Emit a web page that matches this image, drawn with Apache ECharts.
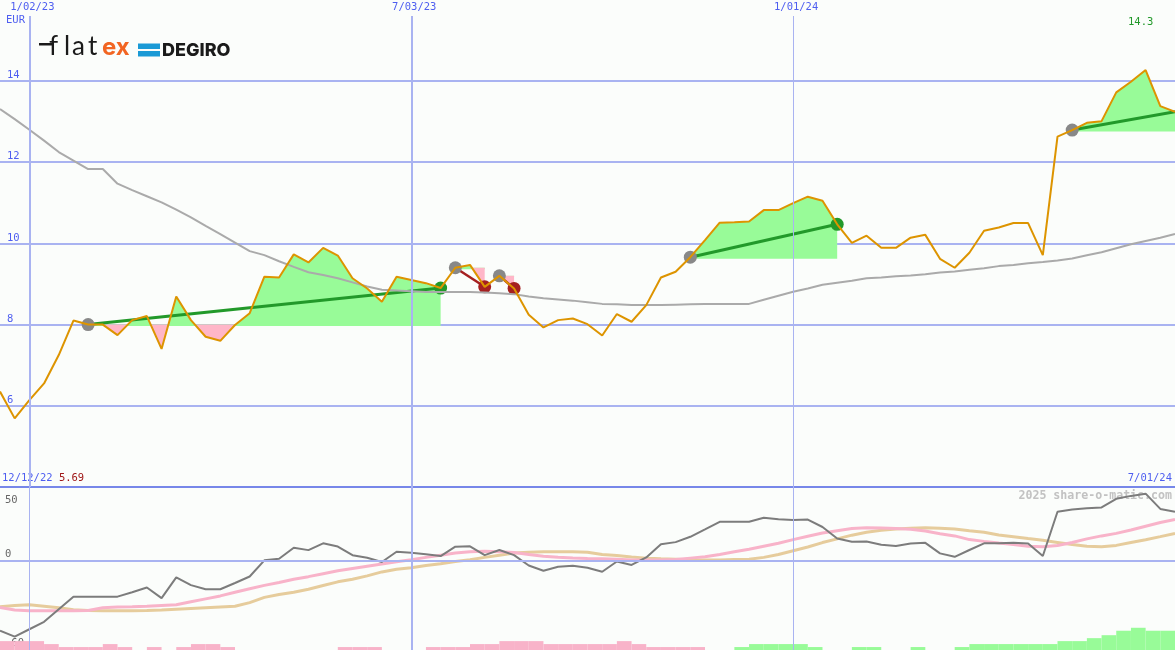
<!DOCTYPE html>
<html><head><meta charset="utf-8">
<script src="https://cdn.jsdelivr.net/npm/echarts@6/dist/echarts.min.js"></script>
<style>html,body{margin:0;padding:0;background:#fbfdfb}#c{width:1175px;height:650px}</style>
</head><body><div id="c"></div>
<script>
// ---------- DATA (weekly, index 0 = week of 12/19/22) ----------
const topTickIdx = [2, 28, 54];
const topTickLabels = ['1/02/23', '7/03/23', '1/01/24'];
const rangeLabels = ['12/12/22', '7/01/24'];
const priceTicks = [6, 8, 10, 12, 14];
const oscTicks = [50, 0, -60];
const currency = 'EUR';
const watermark = '2025 share-o-matic.com';

const prices = [6.35,5.69,6.14,6.55,7.25,8.10,8.00,8.00,7.74,8.11,
  8.21,7.40,8.69,8.11,7.70,7.60,7.99,8.28,9.18,9.16,
  9.73,9.53,9.89,9.70,9.14,8.89,8.56,9.18,9.10,9.02,
  8.90,9.40,9.47,8.93,9.20,8.89,8.24,7.93,8.11,8.15,
  8.01,7.73,8.26,8.07,8.48,9.16,9.30,9.66,10.08,10.51,
  10.52,10.54,10.82,10.82,10.99,11.15,11.05,10.47,10.01,10.19,
  9.89,9.89,10.14,10.21,9.62,9.40,9.77,10.31,10.39,10.50,
  10.50,9.71,12.63,12.79,12.97,13.01,13.72,13.98,14.27,13.38,
  13.24];

const priceMA = [13.31,13.06,12.80,12.53,12.25,12.04,11.83,11.83,11.47,11.31,
  11.16,11.01,10.83,10.64,10.43,10.23,10.02,9.81,9.71,9.56,
  9.42,9.29,9.22,9.14,9.04,8.94,8.86,8.84,8.82,8.80,
  8.80,8.80,8.80,8.79,8.77,8.75,8.69,8.65,8.62,8.59,
  8.55,8.51,8.50,8.48,8.48,8.48,8.49,8.50,8.51,8.51,
  8.51,8.51,8.61,8.71,8.81,8.89,8.98,9.03,9.08,9.14,
  9.16,9.19,9.21,9.24,9.28,9.31,9.35,9.39,9.44,9.47,
  9.51,9.54,9.58,9.63,9.71,9.78,9.88,9.98,10.06,10.14,
  10.23];

const osc = [-47,-51,-46,-41,-32.5,-24,-24,-24,-24,-21,
  -17.8,-25,-11,-16.2,-19,-19,-14.8,-10.4,0.5,1.6,
  9,7.4,12,9.8,4,2.2,-0.6,6.3,5.7,4.6,
  3.4,9.7,10,4,7.5,4,-3,-6.5,-3.8,-3.1,
  -4.5,-7.2,-0.3,-2.6,2.5,11.4,12.8,16.4,21.4,26.5,
  26.5,26.5,29.2,28.2,27.8,28,23,15.3,13,13.2,
  11,10.2,11.8,12.3,5.2,2.9,7.5,12,12.1,12.3,
  11.8,3.4,33.3,34.8,35.7,36.2,42,44,45.5,35.2,
  33.3];

const oscFast = [-31.3,-33,-33.5,-33.5,-33.5,-33.5,-33.3,-31.5,-31,-30.8,
  -30.5,-30,-29.5,-27.5,-25.5,-23.5,-21,-18.7,-16.4,-14.5,
  -12.2,-10.5,-8.5,-6.5,-5,-3.5,-2,-0.5,0.9,2.5,
  4,5.5,6.3,6.6,6.3,5.8,4.5,3.3,2.6,2.1,
  1.8,1.6,1.2,0.8,0.7,0.7,1,2,3,4.5,
  6.3,8,10,12,14.5,16.8,19,20.5,22,22.5,
  22.3,22,21.5,20.3,18.5,17,14.5,13.3,12.2,11.2,
  10,9.7,10.5,12.5,15,17,18.7,21,23.5,26,
  28.1];

const oscSlow = [-30.8,-30,-29.5,-30.5,-31.5,-32.8,-33.3,-33.5,-33.5,-33.5,
  -33.3,-33,-32.5,-32,-31.5,-31,-30.5,-28,-24.5,-22.5,
  -21,-19,-16.5,-14,-12.3,-10,-7.3,-5.5,-4.5,-3,
  -1.8,-0.3,0.9,2.5,4,5.5,6,6.3,6.3,6.3,
  6,4.5,3.7,2.7,2,1.5,1.2,0.9,0.7,0.7,
  1,1.2,2.5,4.5,7,9.5,12.5,15,17.5,19.5,
  20.8,21.6,22.2,22.5,22.2,21.6,20.5,19.5,17.6,16.5,
  15.2,14,12.6,11.2,10,9.7,10.6,12.5,14.4,16.5,
  18.7];

// weekly histogram bars (bar k spans week k..k+1); negative = pink, positive = green
const histogram = [-6,-6,-6,-4,-2,-2,-2,-4,-2,0,
  -2,0,-2,-4,-4,-2,0,0,0,0,
  0,0,0,-2,-2,-2,0,0,0,-2,
  -2,-2,-4,-4,-6,-6,-6,-4,-4,-4,
  -4,-4,-6,-4,-2,-2,-2,-2,0,0,
  2,4,4,4,4,2,0,0,2,2,
  0,0,2,0,0,2,4,4,4,4,
  4,4,6,6,8,10,13,15,13,13];

const tradeEntry = [6, 31, 34, 47, 73];
const tradeExit  = [30, 33, 35, 57, 80];
const tradeOpen  = [false, false, false, false, true];

// ---------- derived ----------
const C = {
  label: '#4e5ef0', grid: '#a9b3f1', sep: '#7787e9',
  price: '#dd9400', ma: '#aaaaaa', osc: '#7c7c7c', fast: '#f8b3c9', slow: '#e6cc9c',
  fillUp: '#98fb98', fillDn: '#ffb6c8', win: '#22992a', loss: '#a52020', entry: '#888888'
};
const mono = '"DejaVu Sans Mono", monospace';
const xMax = prices.length - 1;
const maxVal = Math.max(...prices), minVal = Math.min(...prices);
const iMax = prices.indexOf(maxVal);

const fillPolys = [];
tradeEntry.forEach((a, k) => {
  const b = tradeExit[k], L = prices[a];
  const up = [], dn = [];
  for (let i = a; i <= b; i++) {
    const p = prices[i];
    up.push([i, Math.max(p, L)]); dn.push([i, Math.min(p, L)]);
    if (i < b) {
      const q = prices[i + 1];
      if ((p - L) * (q - L) < 0) { const t = (L - p) / (q - p); up.push([i + t, L]); dn.push([i + t, L]); }
    }
  }
  up.push([b, L], [a, L]); dn.push([b, L], [a, L]);
  fillPolys.push({ pts: up, color: C.fillUp, shift: 1.5 }, { pts: dn, color: C.fillDn, shift: 0 });
});

const entryPts = tradeEntry.map(a => [a, prices[a]]);
const winPts = [], lossPts = [];
tradeExit.forEach((b, k) => {
  if (tradeOpen[k]) return;
  (prices[b] >= prices[tradeEntry[k]] ? winPts : lossPts).push([b, prices[b]]);
});
const trendLines = tradeEntry.map((a, k) => {
  const b = tradeExit[k];
  const win = prices[b] >= prices[a];
  return { coords: [[a, prices[a]], [b, prices[b]]],
    lineStyle: { color: win ? C.win : C.loss, width: win ? 3 : 2.5, opacity: 1 } };
});

const idx = arr => arr.map((v, i) => [i, v]);
const vWidthTop = [2, 2, 1], vWidthBot = [1, 2, 1];

const chart = echarts.init(document.getElementById('c'));
chart.setOption({
  animation: false,
  backgroundColor: '#fbfdfb',
  grid: [
    { left: 0, right: 0, top: 16, height: 471, containLabel: false, outerBoundsMode: 'none' },
    { left: 0, right: 0, top: 487, height: 163, containLabel: false, outerBoundsMode: 'none' }
  ],
  xAxis: [
    { gridIndex: 0, type: 'value', min: 0, max: xMax, position: 'top',
      axisLine: { show: false, onZero: false }, axisTick: { show: false }, splitLine: { show: false },
      axisLabel: { customValues: topTickIdx, formatter: v => topTickLabels[topTickIdx.indexOf(v)] || '',
        color: C.label, fontFamily: mono, fontSize: 10.5, margin: 3, padding: [0, 0, 0, 6] } },
    { gridIndex: 1, type: 'value', min: 0, max: xMax, position: 'top',
      axisLine: { show: true, onZero: false, lineStyle: { color: C.sep, width: 2 } }, axisTick: { show: false }, splitLine: { show: false },
      axisLabel: { customValues: [0, xMax], alignMinLabel: 'left', alignMaxLabel: 'right', margin: 3,
        formatter: v => v === 0 ? '{d|' + rangeLabels[0] + '} {m|' + minVal.toPrecision(3) + '}' : '{d|' + rangeLabels[1] + '}',
        rich: { d: { color: C.label, fontFamily: mono, fontSize: 10.5, padding: [0, 3, 0, 2] },
                m: { color: '#a01818', fontFamily: mono, fontSize: 10.5 } } } }
  ],
  yAxis: [
    { gridIndex: 0, type: 'value', min: 4, max: 15.6, interval: 2,
      axisLine: { show: false }, axisTick: { show: false },
      splitLine: { show: true, showMinLine: false, showMaxLine: false, lineStyle: { color: C.grid, width: 2 } },
      axisLabel: { inside: true, margin: 7, color: C.label, fontFamily: mono, fontSize: 10.5, lineHeight: 11,
        formatter: v => priceTicks.includes(v) ? v + '\n' : '' } },
    { gridIndex: 1, type: 'value', min: -60, max: 50, interval: 10,
      axisLine: { show: false }, axisTick: { show: false }, splitLine: { show: false },
      axisLabel: { inside: true, margin: 5, color: '#666666', fontFamily: mono, fontSize: 10.5, lineHeight: 13,
        formatter: v => !oscTicks.includes(v) ? '' : (v === oscTicks[0] ? '\n\n' + v : v + '\n'),
        } }
  ],
  graphic: [
    { type: 'text', x: 6, y: 20, z: 0, style: { text: currency, font: '10.5px ' + mono, fill: C.label, verticalAlign: 'middle' } },
    { type: 'text', x: 1172, y: 496, z: 0, style: { text: watermark, font: 'bold 11.6px ' + mono, fill: '#c2c2c2', align: 'right', verticalAlign: 'middle' } },
    // logo
    { type: 'rect', shape: { x: 39, y: 43, width: 13, height: 2.5 }, style: { fill: '#1a1a1a' } },
    { type: 'text', x: 49, y: 46.5, style: { text: 'f', font: '400 26px Lato', fill: '#1a1a1a', verticalAlign: 'middle' } },
    { type: 'text', x: 64, y: 46.5, style: { text: 'l', font: '400 26px Lato', fill: '#1a1a1a', verticalAlign: 'middle' } },
    { type: 'text', x: 72, y: 46.5, style: { text: 'a', font: '400 26px Lato', fill: '#1a1a1a', verticalAlign: 'middle' } },
    { type: 'text', x: 88, y: 46.5, style: { text: 't', font: '400 26px Lato', fill: '#1a1a1a', verticalAlign: 'middle' } },
    { type: 'text', x: 102, y: 47.5, style: { text: 'ex', font: '700 24px Inter', fill: '#f26522', verticalAlign: 'middle' } },
    { type: 'rect', shape: { x: 138, y: 43.5, width: 22, height: 5.5 }, style: { fill: '#1a9ad6' } },
    { type: 'rect', shape: { x: 138, y: 51, width: 22, height: 5.5 }, style: { fill: '#1a9ad6' } },
    { type: 'text', x: 162, y: 50.5, style: { text: 'DEGIRO', font: '800 18px Inter', fill: '#1a1a1a', verticalAlign: 'middle' } }
  ],
  series: [
    // trade fills
    { type: 'custom', xAxisIndex: 0, yAxisIndex: 0, silent: true, clip: true,
      data: fillPolys.map((p, i) => [p.pts[0][0], p.pts[0][1], i]), encode: { x: 0, y: 1 },
      renderItem: (params, api) => {
        const poly = fillPolys[api.value(2)];
        const n = poly.pts.length;
        const pts = poly.pts.map((pt, j) => { const c = api.coord(pt); if (j >= n - 2) c[1] += poly.shift; return c; });
        return { type: 'polygon', shape: { points: pts }, style: { fill: poly.color } };
      } },
    // moving average of price + vertical grid lines
    { type: 'line', xAxisIndex: 0, yAxisIndex: 0, data: idx(priceMA), showSymbol: false, silent: true,
      lineStyle: { color: C.ma, width: 2 },
      markLine: { silent: true, symbol: ['none', 'none'], label: { show: false },
        data: topTickIdx.map((v, k) => ({ xAxis: v, lineStyle: { color: C.grid, width: vWidthTop[k], type: 'solid' } })) } },
    // markers
    { type: 'scatter', xAxisIndex: 0, yAxisIndex: 0, data: entryPts, symbolSize: 13, silent: true, itemStyle: { color: C.entry, opacity: 1 } },
    { type: 'scatter', xAxisIndex: 0, yAxisIndex: 0, data: winPts, symbolSize: 13, silent: true, itemStyle: { color: C.win, opacity: 1 } },
    { type: 'scatter', xAxisIndex: 0, yAxisIndex: 0, data: lossPts, symbolSize: 13, silent: true, itemStyle: { color: C.loss, opacity: 1 } },
    // price
    { type: 'line', xAxisIndex: 0, yAxisIndex: 0, data: idx(prices), showSymbol: false, silent: true,
      lineStyle: { color: C.price, width: 2 } },
    // trade trend lines
    { type: 'lines', coordinateSystem: 'cartesian2d', xAxisIndex: 0, yAxisIndex: 0, silent: true, data: trendLines,
      lineStyle: { opacity: 1 } },
    // max label
    { type: 'custom', xAxisIndex: 0, yAxisIndex: 0, silent: true, clip: false,
      data: [[iMax, maxVal]], encode: { x: 0, y: 1 },
      renderItem: (params, api) => {
        const p = api.coord([api.value(0), api.value(1)]);
        return { type: 'text', x: p[0] - 5, y: params.coordSys.y + 6,
          style: { text: maxVal.toPrecision(3), fill: C.win, font: '10.5px ' + mono, align: 'center', verticalAlign: 'middle' } };
      } },
    // bottom panel
    { type: 'line', xAxisIndex: 1, yAxisIndex: 1, data: idx(oscSlow), showSymbol: false, silent: true,
      lineStyle: { color: C.slow, width: 3 },
      markLine: { silent: true, symbol: ['none', 'none'], label: { show: false },
        data: topTickIdx.map((v, k) => ({ xAxis: v, lineStyle: { color: C.grid, width: vWidthBot[k], type: 'solid' } }))
          .concat([{ yAxis: 0, lineStyle: { color: C.grid, width: 2, type: 'solid' } }]) } },
    { type: 'line', xAxisIndex: 1, yAxisIndex: 1, data: idx(oscFast), showSymbol: false, silent: true,
      lineStyle: { color: C.fast, width: 3 } },
    { type: 'line', xAxisIndex: 1, yAxisIndex: 1, data: idx(osc), showSymbol: false, silent: true,
      lineStyle: { color: C.osc, width: 2 } },
    { type: 'custom', xAxisIndex: 1, yAxisIndex: 1, silent: true,
      data: histogram.map((h, i) => [i, h]).filter(d => d[1] !== 0), encode: { x: 0, y: 1 },
      renderItem: (params, api) => {
        const i = api.value(0), h = api.value(1);
        const p0 = api.coord([i, -60]), p1 = api.coord([i + 1, -60 + Math.abs(h)]);
        return { type: 'rect', shape: { x: p0[0], y: p1[1], width: p1[0] - p0[0], height: p0[1] - p1[1] },
          style: { fill: h < 0 ? C.fast : C.fillUp } };
      } }
  ]
});
</script>
</body></html>
